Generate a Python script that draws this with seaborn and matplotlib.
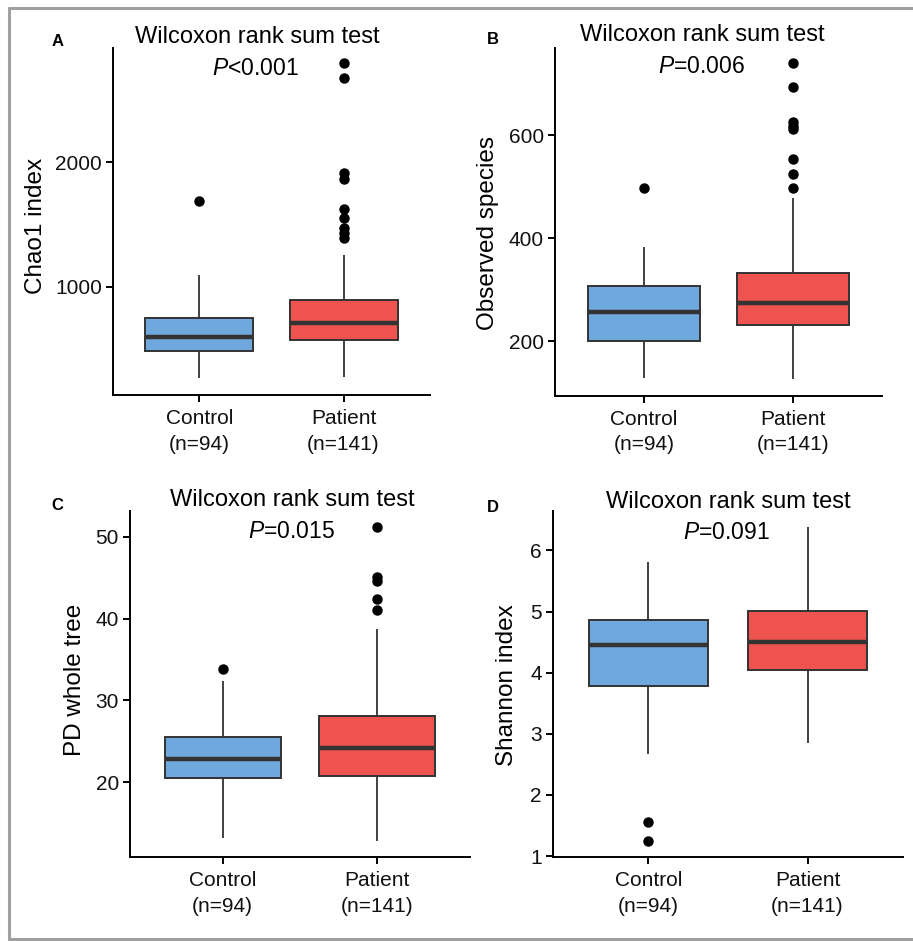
import numpy as np
import pandas as pd
import matplotlib
matplotlib.use("Agg")
import matplotlib.pyplot as plt
from matplotlib.lines import Line2D
import seaborn as sns

# ====================================================
# DATA
# ====================================================

groups = ["Control", "Patient"]
tick_labels = ["Control\n(n=94)", "Patient\n(n=141)"]
box_colors = ["#6FA8DC", "#EF5350"]

panel_letters = ["A", "B", "C", "D"]
y_titles = ["Chao1 index", "Observed species", "PD whole tree", "Shannon index"]
p_texts = ["<0.001", "=0.006", "=0.015", "=0.091"]

# five-number summaries: [whisker low, Q1, median, Q3, whisker high]
chao1_control = [270, 490, 597, 750, 1096]
chao1_patient = [278, 576, 709, 896, 1256]
chao1_control_out = [1688]
chao1_patient_out = [1390, 1430, 1470, 1550, 1622, 1862, 1910, 2670, 2790]

observed_control = [129, 201, 256, 307, 382]
observed_patient = [127, 231, 273, 333, 478]
observed_control_out = [498]
observed_patient_out = [498, 524, 553, 611, 617, 626, 693, 739]

pd_control = [13.2, 20.5, 22.8, 25.5, 32.4]
pd_patient = [12.8, 20.8, 24.2, 28.1, 38.7]
pd_control_out = [33.8]
pd_patient_out = [41.1, 42.4, 44.6, 45.1, 51.2]

shannon_control = [2.67, 3.78, 4.45, 4.87, 5.81]
shannon_patient = [2.85, 4.04, 4.51, 5.01, 6.39]
shannon_control_out = [1.25, 1.55]
shannon_patient_out = []

y_limits = [(136, 2912), (94, 769), (10.8, 53.2), (0.98, 6.65)]
y_ticks = [[1000, 2000], [200, 400, 600], [20, 30, 40, 50], [1, 2, 3, 4, 5, 6]]


def box_values(summary, outliers):
    # sample whose quartiles/whiskers reproduce the summary exactly
    lo, q1, med, q3, hi = summary
    low_out = [v for v in outliers if v < lo]
    high_out = [v for v in outliers if v > hi]
    L = len(low_out) + 1
    H = len(high_out) + 1
    m = 2 * max(L, H, 2)
    return (low_out + [lo] + [q1] * (m - L) + [med]
            + [q3] * (m - H) + [hi] + high_out)


def make_frame(ctrl, ctrl_out, pat, pat_out):
    c = box_values(ctrl, ctrl_out)
    p = box_values(pat, pat_out)
    return pd.DataFrame({
        "group": ["Control"] * len(c) + ["Patient"] * len(p),
        "value": c + p,
    })


frames = [
    make_frame(chao1_control, chao1_control_out, chao1_patient, chao1_patient_out),
    make_frame(observed_control, observed_control_out, observed_patient, observed_patient_out),
    make_frame(pd_control, pd_control_out, pd_patient, pd_patient_out),
    make_frame(shannon_control, shannon_control_out, shannon_patient, shannon_patient_out),
]

# ====================================================
# STYLE
# ====================================================

sns.set_style("ticks")
plt.rcParams["font.family"] = ["Liberation Sans", "DejaVu Sans"]
plt.rcParams["mathtext.fontset"] = "custom"
plt.rcParams["mathtext.it"] = "Liberation Sans:italic"
plt.rcParams["mathtext.rm"] = "Liberation Sans"
plt.rcParams["text.color"] = "black"
plt.rcParams["axes.labelcolor"] = "black"

W, H = 913, 941
fig = plt.figure(figsize=(W / 100, H / 100), dpi=100)

# panel boxes in pixels: left, right, top, bottom
panel_px = [
    (113, 430, 48, 395),
    (555, 882, 48, 395.7),
    (130, 470, 510.7, 857.3),
    (553, 903, 510.7, 857.3),
]
ylabel_pos = [(-0.243, 0.487), (-0.206, 0.469), (-0.162, 0.512), (-0.132, 0.497)]
title_pos = [(0.454, 1.032), (0.449, 1.037), (0.476, 1.031), (0.50, 1.025)]
p_pos = [(0.448, 0.942), (0.447, 0.948), (0.474, 0.939), (0.496, 0.936)]
letter_px = [(58, 42), (493, 40), (57, 505), (493, 507)]

for i, df in enumerate(frames):
    x0, x1, top, bottom = panel_px[i]
    ax = fig.add_axes([x0 / W, 1 - bottom / H, (x1 - x0) / W, (bottom - top) / H])

    sns.boxplot(
        data=df, x="group", y="value", hue="group",
        order=groups, hue_order=groups, palette=box_colors,
        saturation=1, width=0.75, linecolor="#333333", linewidth=1.4,
        showcaps=False, fliersize=6.5, legend=False, ax=ax,
        flierprops=dict(marker="o", markerfacecolor="black",
                        markeredgecolor="black"),
        medianprops=dict(linewidth=3.2, color="#333333"),
        whiskerprops=dict(linewidth=1.3, color="#333333"),
    )

    ax.set_xlim(-0.6, 1.6)
    ax.set_ylim(*y_limits[i])
    ax.set_yticks(y_ticks[i])
    ax.set_xticks([0, 1])
    ax.set_xticklabels(tick_labels, fontsize=15, linespacing=1.45)
    ax.tick_params(axis="y", labelsize=15, pad=3)
    ax.tick_params(axis="x", pad=5)
    ax.tick_params(length=5, width=1.4, color="black", labelcolor="#111111")
    ax.set_xlabel("")
    ax.set_ylabel(y_titles[i], fontsize=17.5, va="center")
    ax.yaxis.set_label_coords(*ylabel_pos[i])

    for side in ["left", "bottom"]:
        ax.spines[side].set_linewidth(1.4)
        ax.spines[side].set_color("black")
    sns.despine(ax=ax)

    ax.text(title_pos[i][0], title_pos[i][1], "Wilcoxon rank sum test",
            transform=ax.transAxes, ha="center", va="center", fontsize=17)
    ax.text(p_pos[i][0], p_pos[i][1], r"$P$" + p_texts[i],
            transform=ax.transAxes, ha="center", va="center", fontsize=16.5)

    fig.text(letter_px[i][0] / W, 1 - letter_px[i][1] / H, panel_letters[i],
             ha="center", va="center", fontsize=12, fontweight="bold")

# ====================================================
# GRAY FRAME (top, left, bottom)
# ====================================================

frame_kw = dict(color="#A0A0A0", linewidth=2.2, transform=fig.transFigure)
fig.add_artist(Line2D([9 / W, 1], [1 - 8 / H, 1 - 8 / H], **frame_kw))
fig.add_artist(Line2D([9 / W, 9 / W], [1 - 8 / H, 1 - 939 / H], **frame_kw))
fig.add_artist(Line2D([9 / W, 1], [1 - 939 / H, 1 - 939 / H], **frame_kw))

fig.savefig("out.png", dpi=100, facecolor="white")
